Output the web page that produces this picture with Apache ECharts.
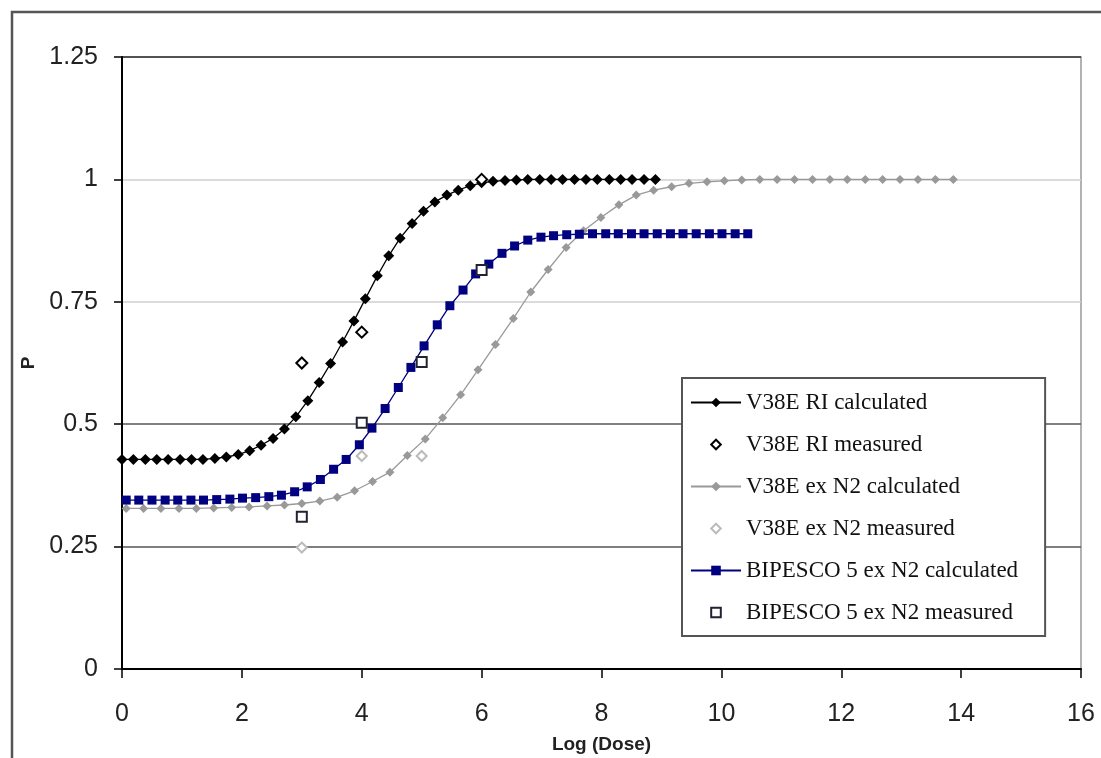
<!DOCTYPE html>
<html>
<head>
<meta charset="utf-8">
<script src="https://cdn.jsdelivr.net/npm/echarts@6/dist/echarts.min.js"></script>
<style>html,body{margin:0;padding:0;background:#fff;}#chart{width:1101px;height:758px;}</style>
</head>
<body>
<div id="chart"></div>
<script>
// ---- data ----
const seriesNames = ['V38E RI calculated','V38E RI measured','V38E ex N2 calculated','V38E ex N2 measured','BIPESCO 5 ex N2 calculated','BIPESCO 5 ex N2 measured'];
const xTicks = [0,2,4,6,8,10,12,14,16];
const yTicks = [0,0.25,0.5,0.75,1,1.25];

const riCalcX = [0,0.19,0.39,0.58,0.77,0.97,1.16,1.35,1.55,1.74,1.94,2.13,2.32,2.52,2.71,2.90,3.10,3.29,3.48,3.68,3.87,4.06,4.26,4.45,4.64,4.84,5.03,5.22,5.42,5.61,5.81,6.00,6.19,6.39,6.58,6.77,6.97,7.16,7.35,7.55,7.74,7.93,8.13,8.32,8.51,8.71,8.90];
const riCalcY = [0.428,0.428,0.428,0.428,0.428,0.428,0.428,0.428,0.430,0.433,0.438,0.446,0.457,0.471,0.490,0.515,0.548,0.585,0.624,0.668,0.711,0.756,0.803,0.844,0.880,0.910,0.935,0.954,0.968,0.978,0.987,0.993,0.996,0.998,0.999,1,1,1,1,1,1,1,1,1,1,1,1];

const riMeasX = [3,4,6];
const riMeasY = [0.625,0.688,1.0];

const n2CalcX = [0.07,0.36,0.65,0.95,1.24,1.53,1.83,2.12,2.42,2.71,3.00,3.30,3.59,3.88,4.18,4.47,4.76,5.06,5.35,5.65,5.94,6.23,6.53,6.82,7.11,7.41,7.70,7.99,8.29,8.58,8.87,9.17,9.46,9.76,10.05,10.34,10.64,10.93,11.22,11.52,11.81,12.10,12.40,12.69,12.98,13.28,13.57,13.87];
const n2CalcY = [0.328,0.328,0.328,0.328,0.328,0.329,0.330,0.331,0.333,0.335,0.338,0.343,0.351,0.364,0.383,0.402,0.436,0.470,0.513,0.560,0.611,0.663,0.716,0.770,0.816,0.861,0.895,0.922,0.948,0.968,0.978,0.985,0.992,0.995,0.997,0.999,1,1,1,1,1,1,1,1,1,1,1,1];

const n2MeasX = [3,4,5];
const n2MeasY = [0.248,0.435,0.435];

const bipCalcX = [0.07,0.28,0.50,0.72,0.93,1.15,1.36,1.58,1.80,2.01,2.23,2.45,2.66,2.88,3.09,3.31,3.53,3.74,3.96,4.17,4.39,4.61,4.82,5.04,5.26,5.47,5.69,5.90,6.12,6.34,6.55,6.77,6.99,7.20,7.42,7.63,7.85,8.07,8.28,8.50,8.71,8.93,9.15,9.36,9.58,9.80,10.01,10.23,10.44];
const bipCalcY = [0.345,0.345,0.345,0.345,0.345,0.345,0.345,0.346,0.347,0.349,0.350,0.352,0.355,0.362,0.372,0.387,0.408,0.428,0.458,0.492,0.532,0.575,0.616,0.660,0.703,0.742,0.774,0.807,0.827,0.849,0.864,0.876,0.882,0.885,0.887,0.888,0.889,0.889,0.889,0.889,0.889,0.889,0.889,0.889,0.889,0.889,0.889,0.889,0.889];

const bipMeasX = [3,4,5,6];
const bipMeasY = [0.311,0.503,0.627,0.815];

// ---- build ----
const pairs = (xs, ys) => xs.map((x, i) => [x, ys[i]]);
const chart = echarts.init(document.getElementById('chart'), null, {renderer: 'canvas'});

// measured series: markers only (line hidden) so the legend icon is a centred marker
const measured = (name, xs, ys, symbol, size, color, z) => ({
  name, type: 'line', data: pairs(xs, ys),
  symbol, symbolSize: size, showAllSymbol: true,
  lineStyle: {opacity: 0, width: 1, color},
  itemStyle: {color, borderColor: color, borderWidth: 1.3}, z
});

const option = {
  animation: false,
  backgroundColor: '#fff',
  graphic: [{
    type: 'rect', z: -1, silent: true,
    shape: {x: 12, y: 12, width: 1200, height: 900},
    style: {fill: 'none', stroke: '#555', lineWidth: 2.5}
  }],
  grid: {left: 122, top: 57, right: 20, bottom: 89, outerBoundsMode: 'none', containLabel: false,
    show: true, borderColor: '#999', borderWidth: 1.5},
  xAxis: {
    type: 'value', min: 0, max: 16, interval: 2,
    name: 'Log (Dose)', nameLocation: 'middle', nameGap: 66,
    nameTextStyle: {fontFamily: 'Liberation Sans, Arial', fontSize: 19, fontWeight: 'bold', color: '#222'},
    axisLine: {show: true, lineStyle: {color: '#000', width: 2}},
    axisTick: {show: true, inside: false, length: 9, lineStyle: {color: '#000', width: 1.5}},
    axisLabel: {margin: 33, fontFamily: 'Liberation Sans, Arial', fontSize: 25, color: '#222',
      formatter: v => xTicks.includes(v) ? String(v) : ''},
    splitLine: {show: false}
  },
  yAxis: {
    type: 'value', min: 0, max: 1.25, interval: 0.25,
    name: 'P', nameLocation: 'middle', nameGap: 73, nameRotate: 90,
    nameTextStyle: {fontFamily: 'Liberation Sans, Arial', fontSize: 19, fontWeight: 'bold', color: '#222'},
    axisLine: {show: true, lineStyle: {color: '#000', width: 2}},
    axisTick: {show: true, inside: false, length: 8, lineStyle: {color: '#000', width: 1.5}},
    axisLabel: {margin: 24, fontFamily: 'Liberation Sans, Arial', fontSize: 25, color: '#222',
      formatter: v => yTicks.includes(v) ? String(v) : ''},
    splitLine: {show: true, lineStyle: {color: ['#000', '#555', '#555', '#cfcfcf', '#cfcfcf', '#333'], width: 1.5}}
  },
  legend: {
    orient: 'vertical', left: 682, top: 378,
    padding: [13, 27, 12, 8], itemGap: 19, itemWidth: 50, itemHeight: 12,
    borderColor: '#555', borderWidth: 2, backgroundColor: '#fff',
    textStyle: {fontFamily: 'Liberation Serif, Times New Roman', fontSize: 23, color: '#111'},
    data: seriesNames
  },
  series: [
    {
      name: seriesNames[0], type: 'line', data: pairs(riCalcX, riCalcY),
      symbol: 'diamond', symbolSize: 11, showAllSymbol: true,
      lineStyle: {color: '#000', width: 1.3}, itemStyle: {color: '#000'}, z: 4
    },
    measured(seriesNames[1], riMeasX, riMeasY, 'emptyDiamond', 11, '#000', 6),
    {
      name: seriesNames[2], type: 'line', data: pairs(n2CalcX, n2CalcY),
      symbol: 'diamond', symbolSize: 9, showAllSymbol: true,
      lineStyle: {color: '#999', width: 1.3}, itemStyle: {color: '#999'}, z: 2
    },
    measured(seriesNames[3], n2MeasX, n2MeasY, 'emptyDiamond', 10, '#bbb', 6),
    {
      name: seriesNames[4], type: 'line', data: pairs(bipCalcX, bipCalcY),
      symbol: 'rect', symbolSize: 9, showAllSymbol: true,
      lineStyle: {color: '#000080', width: 1.3}, itemStyle: {color: '#000080'}, z: 3
    },
    measured(seriesNames[5], bipMeasX, bipMeasY, 'emptyRect', 10, '#223', 6)
  ]
};
chart.setOption(option);
</script>
</body>
</html>
